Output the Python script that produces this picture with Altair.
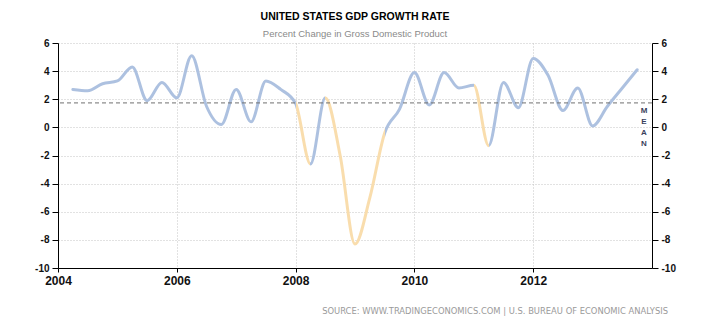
import altair as alt
import pandas as pd

TITLE = "UNITED STATES GDP GROWTH RATE"
SUBTITLE = "Percent Change in Gross Domestic Product"
SOURCE = "SOURCE: WWW.TRADINGECONOMICS.COM  |  U.S. BUREAU OF ECONOMIC ANALYSIS"
MEAN_LABEL = "M\nE\nA\nN"

YEARS = list(range(2004, 2014))
QUARTERS = [f"{y} Q{q}" for y in YEARS for q in range(1, 5)][:39]
# quarterly GDP growth, annualised (%)
GDP_GROWTH = [2.7, 2.6, 3.1, 3.3,
              4.3, 1.9, 3.2, 2.1,
              5.1, 1.5, 0.2, 2.7,
              0.4, 3.3, 2.7, 1.7,
              -2.6, 2.1, -2.0, -8.3,
              -5.0, -0.4, 1.3, 3.9,
              1.6, 3.9, 2.8, 3.0,
              -1.3, 3.2, 1.4, 4.9,
              3.7, 1.2, 2.8, 0.1,
              1.5, 2.8, 4.1]
MEAN_VALUE = 1.74
X_TICKS = [2004, 2006, 2008, 2010, 2012]
Y_TICKS = [-10, -8, -6, -4, -2, 0, 2, 4, 6]

BLUE = "#adc1e0"
ORANGE = "#f9ddad"

# quarter end as decimal year
xpos = [int(q[:4]) + int(q[-1]) * 0.25 for q in QUARTERS]
df = pd.DataFrame({"quarter": QUARTERS, "x": xpos, "growth": GDP_GROWTH})

# colour the stroke: a segment is orange when it ends below zero
x0, xn = xpos[0], xpos[-1]
stops = [alt.GradientStop(offset=0, color=BLUE)]
for i in range(1, len(GDP_GROWTH)):
    c = ORANGE if GDP_GROWTH[i] < 0 else BLUE
    o0 = (xpos[i - 1] - x0) / (xn - x0)
    o1 = (xpos[i] - x0) / (xn - x0)
    stops.append(alt.GradientStop(offset=o0, color=c))
    stops.append(alt.GradientStop(offset=o1, color=c))

FONT = "Liberation Sans"
GRID = dict(grid=True, gridDash=[1, 2], gridColor="#c4c4c4", gridWidth=1)
HYPHEN_LABEL = "'' + datum.value"

x_scale = alt.Scale(domain=[2004, 2014], nice=False, zero=False)
y_scale = alt.Scale(domain=[-10, 6], nice=False, zero=False)

line = alt.Chart(df).mark_line(
    interpolate="monotone",
    strokeWidth=3,
    strokeCap="round",
    color=alt.Gradient(gradient="linear", stops=stops, x1=0, x2=1, y1=0, y2=0),
).encode(
    x=alt.X("x:Q", scale=x_scale, title=None,
            axis=alt.Axis(values=X_TICKS, format="d", tickSize=4, labelPadding=3,
                          labelFont=FONT, labelFontSize=12, labelFontWeight="bold",
                          labelColor="#111", domainColor="#000", tickColor="#000",
                          labelFlush=False, **GRID)),
    y=alt.Y("growth:Q", scale=y_scale, title=None,
            axis=alt.Axis(values=Y_TICKS, orient="left", tickSize=6, labelPadding=3,
                          labelExpr=HYPHEN_LABEL,
                          labelFont=FONT, labelFontSize=10, labelFontWeight="bold",
                          labelColor="#111", domainColor="#000", tickColor="#000",
                          **GRID)),
    tooltip=["quarter", "growth"],
)

mean_rule = alt.Chart(pd.DataFrame({"mean": [MEAN_VALUE]})).mark_rule(
    color="#707070", strokeDash=[4, 3], strokeWidth=1
).encode(
    y=alt.Y("mean:Q", scale=y_scale, title=None,
            axis=alt.Axis(values=Y_TICKS, orient="right", tickSize=6, labelPadding=3,
                          labelExpr=HYPHEN_LABEL,
                          labelFont=FONT, labelFontSize=10, labelFontWeight="bold",
                          labelColor="#111", domainColor="#000", tickColor="#000",
                          grid=False)),
)

def text_layer(label, x, y, **kw):
    return alt.Chart(pd.DataFrame({"t": [label]})).mark_text(**kw).encode(
        text="t:N", x=alt.value(x), y=alt.value(y))

title = text_layer(TITLE, 297, -26, font=FONT, fontSize=10.5, fontWeight="bold",
                   color="#000", align="center", baseline="middle")
subtitle = text_layer(SUBTITLE, 297, -9, font=FONT, fontSize=9.5, color="#8a8a8a",
                      align="center", baseline="middle")
source = text_layer(SOURCE, 610, 268, font="DejaVu Sans", fontSize=8.4, color="#9a9a9a",
                    align="right", baseline="middle")
mean_txt = text_layer(MEAN_LABEL, 586, 68, font=FONT, fontSize=8, fontWeight="bold",
                      color="#3a3f5c", align="center", baseline="middle",
                      lineBreak="\n", lineHeight=11)

chart = alt.layer(line, mean_rule, title, subtitle, source, mean_txt).resolve_scale(
    y="independent"
).properties(
    width=594,
    height=225,
    padding={"left": 58, "top": 43, "right": 58, "bottom": 57},
    autosize=alt.AutoSizeParams(type="none"),
    background="white",
).configure_view(stroke=None)

chart.save("out.html", embed_options={"renderer": "svg", "actions": False})
